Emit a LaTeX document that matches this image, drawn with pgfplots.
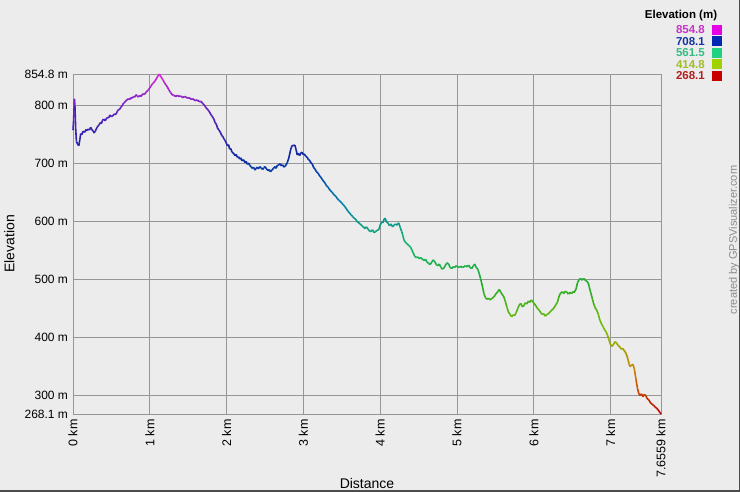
\documentclass[border=0pt]{standalone}
\usepackage{pgfplots}
\pgfplotsset{compat=1.18}
\usepackage{fontspec}
\setmainfont{Liberation Sans}
\definecolor{bg}{RGB}{236,236,236}
\definecolor{gridc}{RGB}{150,150,150}
\definecolor{wm}{RGB}{140,140,140}
\definecolor{t1}{RGB}{200,50,200}\definecolor{s1}{RGB}{230,0,230}
\definecolor{t2}{RGB}{20,50,160}\definecolor{s2}{RGB}{0,40,180}
\definecolor{t3}{RGB}{50,190,130}\definecolor{s3}{RGB}{30,210,130}
\definecolor{t4}{RGB}{160,190,40}\definecolor{s4}{RGB}{160,210,0}
\definecolor{t5}{RGB}{180,30,30}\definecolor{s5}{RGB}{200,0,0}

% elevation colour ramp, red at the bottom, magenta at the top (9 equal steps)
\pgfplotsset{colormap={elev}{rgb255=(190,0,0) rgb255=(205,130,0) rgb255=(120,190,0)
  rgb255=(40,170,40) rgb255=(20,180,110) rgb255=(0,125,170) rgb255=(10,40,165)
  rgb255=(80,30,185) rgb255=(215,40,215)}}

\begin{document}
\begin{tikzpicture}
\useasboundingbox (0,0) rectangle (740pt,492pt);
\fill[bg] (0,0) rectangle (740pt,492pt);
\draw[black!70, line width=1.5pt] (0,0.75pt) -- (739.25pt,0.75pt) -- (739.25pt,492pt);

\begin{axis}[
  at={(73pt,78pt)}, anchor=south west,
  scale only axis, width=588pt, height=340pt,
  xmin=0, xmax=7.6559, ymin=268.1, ymax=854.8,
  xtick={0,1,2,3,4,5,6,7,7.6559},
  xticklabels={0 km,1 km,2 km,3 km,4 km,5 km,6 km,7 km,7.6559 km},
  ytick={268.1,300,400,500,600,700,800,854.8},
  yticklabels={268.1 m,300 m,400 m,500 m,600 m,700 m,800 m,854.8 m},
  major tick length=0pt,
  xticklabel shift=2pt, yticklabel shift=1.5pt,
  grid=major,
  major grid style={gridc, line width=0.9pt},
  axis line style={gridc, line width=0.9pt},
  xticklabel style={rotate=90, anchor=east, font=\fontsize{12.5}{13}\selectfont},
  yticklabel style={font=\fontsize{12}{13}\selectfont},
  xlabel={Distance}, ylabel={Elevation},
  every axis x label/.style={at={(axis description cs:0.5,-0.205)}, anchor=center, font=\fontsize{14}{15}\selectfont},
  every axis y label/.style={at={(axis description cs:-0.108,0.5)}, rotate=90, anchor=center, font=\fontsize{14}{15}\selectfont},
  colormap name=elev, point meta min=268.1, point meta max=854.8,
  clip=false,
]
\addplot[mesh, point meta=y, line width=1.6pt] table[row sep=\\] {
0 758\\ 0.008 775\\ 0.018 812\\ 0.025 800\\ 0.035 760\\ 0.045 738\\ 0.06 734\\ 0.075 731\\
0.09 742\\ 0.10 752\\ 0.115 750\\ 0.13 756\\ 0.15 754\\ 0.17 759\\ 0.185 757\\ 0.20 760\\
0.215 758\\ 0.23 763\\ 0.245 759\\ 0.26 757\\ 0.275 753\\ 0.29 756\\ 0.31 762\\ 0.325 765\\
0.34 767\\ 0.355 771\\ 0.37 769\\ 0.385 775\\ 0.40 777\\ 0.42 774\\ 0.435 778\\ 0.45 780\\
0.465 779\\ 0.48 784\\ 0.50 781\\ 0.52 783\\ 0.54 786\\ 0.56 785\\ 0.575 790\\ 0.59 793\\
0.61 794\\ 0.625 798\\ 0.64 800\\ 0.66 805\\ 0.675 806\\ 0.69 809\\ 0.705 810\\ 0.72 812\\
0.74 811\\ 0.755 814\\ 0.77 813\\ 0.79 816\\ 0.805 815\\ 0.82 819\\ 0.835 817\\ 0.85 815\\
0.87 818\\ 0.885 816\\ 0.90 819\\ 0.92 821\\ 0.935 820\\ 0.95 823\\ 0.97 826\\ 0.985 828\\
1.00 831\\ 1.015 834\\ 1.035 838\\ 1.05 840\\ 1.07 843\\ 1.09 848\\ 1.105 851\\ 1.124 854.8\\
1.14 851\\ 1.155 848\\ 1.17 845\\ 1.19 840\\ 1.21 836\\ 1.23 832\\ 1.25 827\\ 1.27 823\\
1.29 819\\ 1.31 818\\ 1.34 816\\ 1.36 818\\ 1.38 816\\ 1.40 817\\ 1.43 814\\ 1.45 816\\
1.47 815\\ 1.49 813\\ 1.51 814\\ 1.54 811\\ 1.56 812\\ 1.59 809\\ 1.62 810\\ 1.64 807\\
1.66 808\\ 1.69 804\\ 1.71 801\\ 1.73 797\\ 1.75 794\\ 1.77 791\\ 1.79 786\\ 1.81 782\\
1.83 778\\ 1.85 771\\ 1.87 767\\ 1.88 762\\ 1.90 758\\ 1.92 754\\ 1.935 749\\ 1.95 747\\
1.965 743\\ 1.98 740\\ 1.995 736\\ 2.01 731\\ 2.025 733\\ 2.04 725\\ 2.055 726\\ 2.07 720\\
2.09 718\\ 2.11 714\\ 2.125 716\\ 2.14 711\\ 2.155 712\\ 2.17 708\\ 2.185 710\\ 2.20 705\\
2.22 707\\ 2.24 702\\ 2.255 704\\ 2.27 699\\ 2.29 701\\ 2.30 697\\ 2.32 695\\ 2.33 692\\
2.35 694\\ 2.37 689\\ 2.385 692\\ 2.40 694\\ 2.415 691\\ 2.43 695\\ 2.45 693\\ 2.47 690\\
2.485 693\\ 2.50 695\\ 2.52 691\\ 2.54 688\\ 2.555 690\\ 2.57 686\\ 2.59 689\\ 2.61 692\\
2.63 695\\ 2.645 692\\ 2.66 697\\ 2.68 698\\ 2.70 700\\ 2.715 696\\ 2.73 698\\ 2.75 694\\
2.77 697\\ 2.79 702\\ 2.81 710\\ 2.83 722\\ 2.845 729\\ 2.86 732\\ 2.875 731\\ 2.89 732\\
2.905 724\\ 2.92 715\\ 2.935 718\\ 2.95 714\\ 2.965 718\\ 2.98 720\\ 2.995 716\\ 3.01 717\\
3.03 713\\ 3.05 711\\ 3.065 707\\ 3.08 706\\ 3.10 701\\ 3.115 700\\ 3.13 694\\ 3.15 691\\
3.17 686\\ 3.19 684\\ 3.21 679\\ 3.225 677\\ 3.24 674\\ 3.26 670\\ 3.28 667\\ 3.30 662\\
3.32 660\\ 3.335 656\\ 3.35 654\\ 3.37 651\\ 3.39 648\\ 3.40 646\\ 3.42 644\\ 3.44 640\\
3.46 637\\ 3.48 635\\ 3.50 632\\ 3.52 629\\ 3.54 626\\ 3.56 622\\ 3.58 618\\ 3.60 615\\
3.62 612\\ 3.64 609\\ 3.66 606\\ 3.68 604\\ 3.70 600\\ 3.72 598\\ 3.74 596\\ 3.76 593\\
3.78 591\\ 3.80 588\\ 3.82 591\\ 3.84 587\\ 3.86 584\\ 3.88 583\\ 3.90 586\\ 3.92 581\\
3.94 583\\ 3.96 585\\ 3.98 586\\ 4.00 594\\ 4.02 600\\ 4.035 598\\ 4.05 604\\ 4.065 606\\
4.08 600\\ 4.10 598\\ 4.12 593\\ 4.14 596\\ 4.16 591\\ 4.18 594\\ 4.20 596\\ 4.22 594\\
4.24 598\\ 4.26 590\\ 4.28 583\\ 4.295 576\\ 4.31 568\\ 4.33 564\\ 4.35 562\\ 4.37 559\\
4.39 557\\ 4.41 552\\ 4.43 546\\ 4.45 540\\ 4.47 538\\ 4.49 539\\ 4.51 536\\ 4.53 538\\
4.55 535\\ 4.57 533\\ 4.59 535\\ 4.61 530\\ 4.63 528\\ 4.65 526\\ 4.67 530\\ 4.69 534\\
4.71 531\\ 4.73 526\\ 4.75 524\\ 4.77 527\\ 4.79 521\\ 4.81 518\\ 4.83 520\\ 4.85 525\\
4.87 529\\ 4.89 527\\ 4.91 521\\ 4.93 519\\ 4.95 522\\ 4.97 521\\ 4.99 524\\ 5.01 522\\
5.03 521\\ 5.05 523\\ 5.07 521\\ 5.09 522\\ 5.11 524\\ 5.13 522\\ 5.15 525\\ 5.17 521\\
5.19 519\\ 5.21 523\\ 5.23 527\\ 5.25 521\\ 5.27 518\\ 5.29 510\\ 5.31 500\\ 5.33 489\\
5.35 476\\ 5.37 469\\ 5.39 466\\ 5.41 468\\ 5.43 465\\ 5.45 467\\ 5.47 469\\ 5.49 472\\
5.51 476\\ 5.53 479\\ 5.55 483\\ 5.57 478\\ 5.59 474\\ 5.61 470\\ 5.63 462\\ 5.65 452\\
5.67 444\\ 5.69 440\\ 5.71 436\\ 5.73 439\\ 5.75 438\\ 5.77 443\\ 5.79 450\\ 5.81 456\\
5.83 459\\ 5.85 453\\ 5.87 455\\ 5.89 460\\ 5.91 458\\ 5.93 463\\ 5.95 461\\ 5.97 465\\
5.99 461\\ 6.01 458\\ 6.03 454\\ 6.05 450\\ 6.07 447\\ 6.09 443\\ 6.11 440\\ 6.13 441\\
6.15 437\\ 6.17 440\\ 6.19 441\\ 6.21 444\\ 6.23 447\\ 6.25 449\\ 6.27 453\\ 6.29 457\\
6.31 462\\ 6.33 472\\ 6.35 477\\ 6.37 479\\ 6.39 476\\ 6.41 480\\ 6.43 478\\ 6.45 475\\
6.47 478\\ 6.49 476\\ 6.51 479\\ 6.53 479\\ 6.55 484\\ 6.57 495\\ 6.59 500\\ 6.61 502\\
6.63 499\\ 6.65 502\\ 6.67 499\\ 6.69 497\\ 6.71 494\\ 6.72 488\\ 6.74 478\\ 6.76 468\\
6.78 458\\ 6.80 451\\ 6.82 447\\ 6.84 440\\ 6.86 430\\ 6.88 424\\ 6.90 419\\ 6.92 414\\
6.94 410\\ 6.96 404\\ 6.98 395\\ 7.00 387\\ 7.02 385\\ 7.04 389\\ 7.06 393\\ 7.08 390\\
7.10 386\\ 7.12 384\\ 7.14 380\\ 7.16 381\\ 7.18 377\\ 7.20 373\\ 7.22 365\\ 7.24 355\\
7.25 350\\ 7.27 352\\ 7.29 354\\ 7.31 345\\ 7.33 328\\ 7.35 312\\ 7.37 302\\ 7.385 300\\
7.40 303\\ 7.42 298\\ 7.44 302\\ 7.46 299\\ 7.48 294\\ 7.50 292\\ 7.52 287\\ 7.54 285\\
7.56 283\\ 7.58 280\\ 7.60 278\\ 7.62 275\\ 7.64 271\\ 7.6559 268.1\\
};
\end{axis}

% legend of the colour ramp
\node[font=\fontsize{11.5}{12}\selectfont\bfseries] at (681pt,476pt) {Elevation (m)};
\foreach \v/\ty/\tc/\sc in {854.8/462/t1/s1, 708.1/450.5/t2/s2, 561.5/439/t3/s3,
                            414.8/427.5/t4/s4, 268.1/416/t5/s5} {
  \node[anchor=east, inner sep=0pt, text=\tc, font=\fontsize{11.5}{12}\selectfont\bfseries] at (705pt,\ty pt) {\v};
  \fill[\sc] (712pt,\ty pt-5pt) rectangle (722pt,\ty pt+5pt);
}

% watermark
\node[rotate=90, text=wm, font=\fontsize{11}{12}\selectfont] at (734pt,252pt) {created by GPSVisualizer.com};
\end{tikzpicture}
\end{document}
